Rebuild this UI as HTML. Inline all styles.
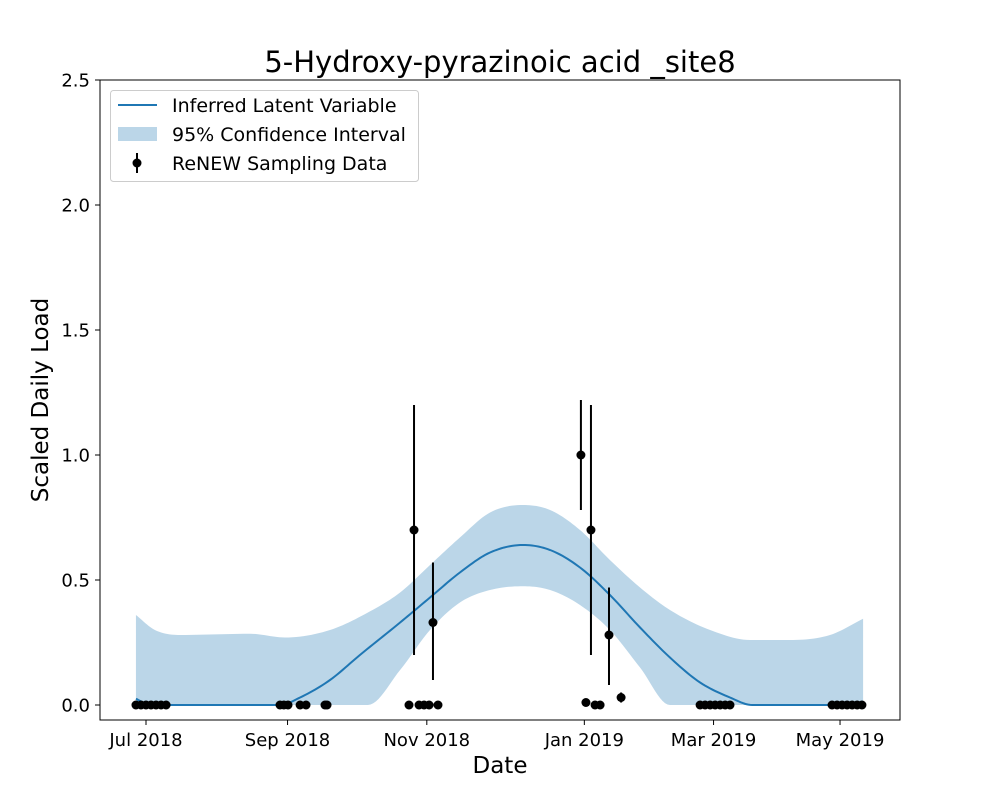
<!DOCTYPE html>
<html><head><meta charset="utf-8"><style>
body{margin:0;background:#fff}
svg{display:block;font-family:"DejaVu Sans","Liberation Sans",sans-serif}
</style></head><body>
<svg id="chart" width="1000" height="800" viewBox="0 0 1000 800">
<rect width="1000" height="800" fill="#fff"/>
<g id="plot"></g>
<rect x="100" y="80" width="800" height="640" fill="none" stroke="#000" stroke-width="1"/>
<text x="500" y="72" text-anchor="middle" font-size="29">5-Hydroxy-pyrazinoic acid _site8</text>
<text x="500" y="773" text-anchor="middle" font-size="23">Date</text>
<text transform="translate(48,400) rotate(-90)" text-anchor="middle" font-size="23">Scaled Daily Load</text>
<g>
<rect x="110.5" y="90.5" width="308" height="91" rx="3" fill="#fff" fill-opacity="0.8" stroke="#ccc"/>
<line x1="118" y1="105" x2="157" y2="105" stroke="#1f77b4" stroke-width="2"/>
<text x="172" y="112" font-size="19">Inferred Latent Variable</text>
<rect x="118" y="127" width="39" height="14" fill="#1f77b4" fill-opacity="0.3"/>
<text x="172" y="141" font-size="19">95% Confidence Interval</text>
<line x1="137" y1="153" x2="137" y2="173" stroke="#000" stroke-width="2"/>
<circle cx="137" cy="163" r="4.5" fill="#000"/>
<text x="172" y="170" font-size="19">ReNEW Sampling Data</text>
</g>
</svg>
<script>
// x values are days since 1 Jul 2018 (axis-equivalent)
const xTickValues=[0,62,123,192,248.6,304];
const xTickLabels=["Jul 2018","Sep 2018","Nov 2018","Jan 2019","Mar 2019","May 2019"];
const yTickValues=[0,0.5,1,1.5,2,2.5];
const yTickLabels=["0.0","0.5","1.0","1.5","2.0","2.5"];
const curveX=[-4.4,1.8,14.9,45.6,58.7,67.5,80.6,93.7,111.3,124.4,137.5,150.7,165.1,177.0,190.1,203.2,216.4,229.5,242.7,255.8,265.5,282.1,299.6,314.1];
const curveMean=[0.025,0,0,0,0,0.03,0.1,0.2,0.33,0.43,0.53,0.61,0.64,0.62,0.55,0.44,0.31,0.19,0.09,0.03,0,0,0,0];
const bandX=[-4.4,3.9,14.9,45.6,60.9,80.6,97.2,111.3,124.4,137.5,150.7,165.1,177.0,190.1,203.2,216.4,229.5,247.1,264.6,282.1,299.6,314.1];
const bandUpper=[0.36,0.3,0.28,0.285,0.27,0.3,0.37,0.45,0.56,0.67,0.77,0.80,0.78,0.70,0.58,0.47,0.38,0.3,0.26,0.26,0.28,0.345];
const bandLower=[0,0,0,0,0,0,0,0.14,0.3,0.41,0.46,0.475,0.46,0.4,0.3,0.15,0,0,0,0,0,0];
const pointX=[-4.4,-2.2,0,2.2,4.4,6.6,8.8,58.7,60.4,62.2,67.5,70.1,78.4,79.3,115.2,117.4,119.6,121.8,124.0,125.7,127.9,190.5,192.7,194.9,196.7,198.9,202.8,208.1,242.7,244.9,247.1,249.3,251.5,253.7,255.8,300.5,302.7,304.9,307.1,309.3,311.5,313.6];
const pointY=[0,0,0,0,0,0,0,0,0,0,0,0,0,0,0,0.7,0,0,0,0.33,0,1.0,0.01,0.7,0,0,0.28,0.03,0,0,0,0,0,0,0,0,0,0,0,0,0,0];
const errLow=[0,0,0,0,0,0,0,0,0,0,0,0,0,0,0,0.2,0,0,0,0.1,0,0.78,0.01,0.2,0,0,0.08,0.01,0,0,0,0,0,0,0,0,0,0,0,0,0,0];
const errHigh=[0,0,0,0,0,0,0,0,0,0,0,0,0,0,0,1.2,0,0,0,0.57,0,1.22,0.01,1.2,0,0,0.47,0.05,0,0,0,0,0,0,0,0,0,0,0,0,0,0];

const NS="http://www.w3.org/2000/svg";
const X=t=>146+t*2.283;
const Y=v=>705-v*250;
const svg=document.getElementById('chart');
const plot=document.getElementById('plot');
function mk(tag,attrs,parent){const e=document.createElementNS(NS,tag);for(const k in attrs)e.setAttribute(k,attrs[k]);(parent||plot).appendChild(e);return e;}

// monotone cubic interpolation -> dense sample points
function smooth(xs,ys){
  const n=xs.length,dx=[],m=[],s=[];
  for(let i=0;i<n-1;i++){dx[i]=xs[i+1]-xs[i];s[i]=(ys[i+1]-ys[i])/dx[i];}
  m[0]=s[0];m[n-1]=s[n-2];
  for(let i=1;i<n-1;i++){m[i]=(s[i-1]*s[i]<=0)?0:(s[i-1]+s[i])/2;}
  for(let i=0;i<n-1;i++){
    if(s[i]===0){m[i]=0;m[i+1]=0;continue;}
    const a=m[i]/s[i],b=m[i+1]/s[i],h=a*a+b*b;
    if(h>9){const t=3/Math.sqrt(h);m[i]=t*a*s[i];m[i+1]=t*b*s[i];}
  }
  const out=[];
  for(let i=0;i<n-1;i++){
    const N=12;
    for(let k=0;k<N;k++){
      const t=k/N,h=dx[i],t2=t*t,t3=t2*t;
      const y=(2*t3-3*t2+1)*ys[i]+(t3-2*t2+t)*h*m[i]+(-2*t3+3*t2)*ys[i+1]+(t3-t2)*h*m[i+1];
      out.push([xs[i]+t*h,y]);
    }
  }
  out.push([xs[n-1],ys[n-1]]);
  return out;
}
const up=smooth(bandX,bandUpper),lo=smooth(bandX,bandLower),mn=smooth(curveX,curveMean);
let d="M"+up.map(p=>X(p[0]).toFixed(2)+","+Y(p[1]).toFixed(2)).join("L");
for(let i=lo.length-1;i>=0;i--)d+="L"+X(lo[i][0]).toFixed(2)+","+Y(lo[i][1]).toFixed(2);
const band=mk('path',{d:d+"Z",fill:"#1f77b4","fill-opacity":"0.3"});



const line=mk('path',{d:"M"+mn.map(p=>X(p[0]).toFixed(2)+","+Y(p[1]).toFixed(2)).join("L"),fill:"none",stroke:"#1f77b4","stroke-width":"2"});



pointX.forEach((t,i)=>{
  if(errHigh[i]-errLow[i]>0.005){
    const eb=mk('line',{x1:X(t),x2:X(t),y1:Y(errLow[i]),y2:Y(errHigh[i]),stroke:"#000","stroke-width":"2"});
    
    
  }
  const c=mk('circle',{cx:X(t),cy:Y(pointY[i]),r:4.5,fill:"#000"});
  
  
});

xTickValues.forEach((t,i)=>{
  const tk=mk('line',{x1:X(t),x2:X(t),y1:720,y2:725,stroke:"#000"},svg);
  
  
  const lb=mk('text',{x:X(t),y:746,"text-anchor":"middle","font-size":"18"},svg);
  lb.textContent=xTickLabels[i];
  
  
});
yTickValues.forEach((v,i)=>{
  const tk=mk('line',{x1:95,x2:100,y1:Y(v),y2:Y(v),stroke:"#000"},svg);
  
  
  const lb=mk('text',{x:90,y:Y(v)+6.5,"text-anchor":"end","font-size":"18"},svg);
  lb.textContent=yTickLabels[i];
  
  
});
</script>
</body></html>
